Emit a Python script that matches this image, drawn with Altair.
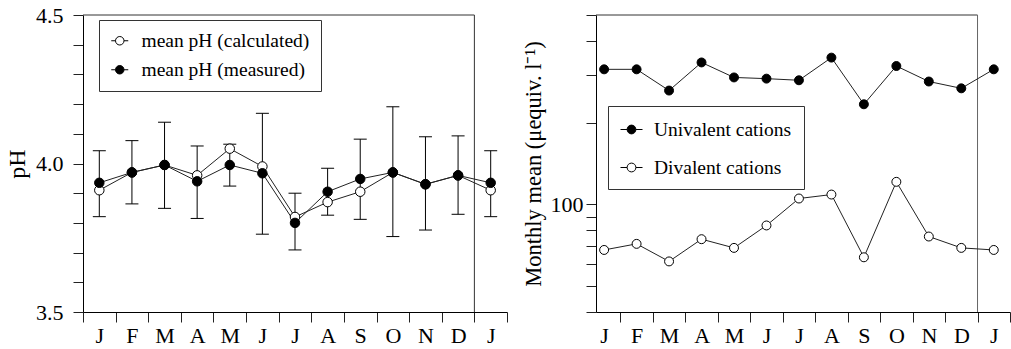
import json
import altair as alt
import pandas as pd

# ---------------- data ----------------
months = ["J", "F", "M", "A", "M", "J", "J", "A", "S", "O", "N", "D", "J"]

ph_calculated = [3.91, 3.97, 3.995, 3.96, 4.05, 3.99, 3.82, 3.87, 3.905, 3.97, 3.93, 3.96, 3.91]
ph_measured = [3.935, 3.97, 3.995, 3.94, 3.995, 3.967, 3.80, 3.905, 3.948, 3.97, 3.93, 3.96, 3.935]
ph_err_high = [4.043, 4.077, 4.139, 4.059, 4.065, 4.169, 3.90, 3.984, 4.082, 4.191, 4.09, 4.093, 4.043]
ph_err_low = [3.821, 3.864, 3.849, 3.815, 3.924, 3.762, 3.709, 3.826, 3.812, 3.754, 3.776, 3.829, 3.821]

univalent = [315, 315, 263, 334, 294, 291, 287, 348, 234, 324, 284, 268, 315]
divalent = [67.8, 71.4, 61.5, 74.3, 69.0, 83.5, 105, 108.6, 63.7, 121, 76, 69.0, 67.8]

ph_ticks = [3.5, 3.6, 3.7, 3.8, 3.9, 4.0, 4.1, 4.2, 4.3, 4.4, 4.5]
ph_tick_labels = ["3.5", "4.0", "4.5"]
cation_ticks = [40, 50, 60, 70, 80, 90, 100, 200, 300, 400, 500]
cation_tick_labels = ["100"]

ph_series = ["mean pH (calculated)", "mean pH (measured)"]
cation_series = ["Univalent cations", "Divalent cations"]

SERIF = "Liberation Serif"
n = len(months)
pos = [i + 0.5 for i in range(n)]

ph_df = pd.DataFrame({
    "pos": pos * 2,
    "value": ph_calculated + ph_measured,
    "series": [ph_series[0]] * n + [ph_series[1]] * n,
})
err_df = pd.DataFrame({"pos": pos, "low": ph_err_low, "high": ph_err_high})
cat_df = pd.DataFrame({
    "pos": pos * 2,
    "value": univalent + divalent,
    "series": [cation_series[0]] * n + [cation_series[1]] * n,
})
one = pd.DataFrame({"k": [0]})

# ---------------- left panel (pH) ----------------
LW, LH = 424, 297
left_x_labels = json.dumps(months + [""])
xl_scale = alt.Scale(domain=[0, 13], nice=False, zero=False)
xl_axis = alt.Axis(values=list(range(14)), labelExpr=f"{left_x_labels}[datum.value]",
                   labelOffset=16.3, title=None, tickSize=10, labelFlush=False,
                   labelOverlap=False, labelPadding=3)
yl_scale = alt.Scale(domain=[3.5, 4.5], nice=False, zero=False)
yl_axis = alt.Axis(values=ph_ticks,
                   labelExpr=f"indexof({json.dumps(ph_tick_labels)}, format(datum.value, '.1f')) >= 0 ? format(datum.value, '.1f') : ''",
                   title="pH", titleFontSize=24, tickSize=10, labelPadding=10, titlePadding=6)


def XL(f):
    return alt.X(f, scale=xl_scale, axis=xl_axis)


def YL(f):
    return alt.Y(f, scale=yl_scale, axis=yl_axis)


left_frame_top = alt.Chart(one).mark_rule(color="#333", strokeWidth=1).encode(
    x=alt.X(datum=0, scale=xl_scale, axis=xl_axis), x2=alt.datum(12),
    y=alt.Y(datum=4.5, scale=yl_scale, axis=yl_axis))
left_frame_right = alt.Chart(one).mark_rule(color="#333", strokeWidth=1).encode(
    x=alt.X(datum=12, scale=xl_scale, axis=xl_axis),
    y=alt.Y(datum=3.5, scale=yl_scale, axis=yl_axis), y2=alt.datum(4.5))

err_rule = alt.Chart(err_df).mark_rule(color="black", strokeWidth=1).encode(
    x=XL("pos:Q"), y=YL("low:Q"), y2="high:Q")
cap_low = alt.Chart(err_df).mark_tick(orient="horizontal", size=13, thickness=1,
                                      color="black", opacity=1).encode(x=XL("pos:Q"), y=YL("low:Q"))
cap_high = alt.Chart(err_df).mark_tick(orient="horizontal", size=13, thickness=1,
                                       color="black", opacity=1).encode(x=XL("pos:Q"), y=YL("high:Q"))
ph_lines = alt.Chart(ph_df).mark_line(color="#222", strokeWidth=1).encode(
    x=XL("pos:Q"), y=YL("value:Q"), detail="series:N")
ph_points = alt.Chart(ph_df).mark_circle(size=90, stroke="black", strokeWidth=1, opacity=1).encode(
    x=XL("pos:Q"), y=YL("value:Q"),
    fill=alt.Fill("series:N", scale=alt.Scale(domain=ph_series, range=["white", "black"]),
                  legend=alt.Legend(title=None, orient="none", legendX=16, legendY=5,
                                    symbolType="M-1,0L-0.5,0M0.5,0L1,0M-0.5,0A0.5,0.5,0,1,1,0.5,0A0.5,0.5,0,1,1,-0.5,0Z",
                                    symbolSize=289, symbolStrokeColor="black", symbolStrokeWidth=1,
                                    labelOffset=12, padding=11, rowPadding=8, labelLimit=400,
                                    strokeColor="#333", fillColor="white")))

left = alt.layer(left_frame_top, left_frame_right, err_rule, cap_low, cap_high,
                 ph_lines, ph_points).properties(width=LW, height=LH)

# ---------------- right panel (cations) ----------------
RW, RH = 414, 297
right_x_labels = json.dumps([""] + months)
xr_scale = alt.Scale(domain=[0.25, 13], nice=False, zero=False)
xr_axis = alt.Axis(values=list(range(1, 14)), labelExpr=f"{right_x_labels}[datum.value]",
                   labelOffset=-16.2, title=None, tickSize=10, labelFlush=False,
                   labelOverlap=False, labelPadding=3)
yr_scale = alt.Scale(type="log", domain=[40, 500], nice=False, zero=False)
yr_axis = alt.Axis(values=cation_ticks,
                   labelExpr=f"indexof({json.dumps(cation_tick_labels)}, format(datum.value, 'd')) >= 0 ? format(datum.value, 'd') : ''",
                   title="Monthly mean (μequiv. l⁻¹)", titleFontSize=22.5, tickSize=10,
                   labelPadding=3, titlePadding=5)


def XR(f):
    return alt.X(f, scale=xr_scale, axis=xr_axis)


def YR(f):
    return alt.Y(f, scale=yr_scale, axis=yr_axis)


right_frame_top = alt.Chart(one).mark_rule(color="#333", strokeWidth=1).encode(
    x=alt.X(datum=0.25, scale=xr_scale, axis=xr_axis), x2=alt.datum(12),
    y=alt.Y(datum=500, scale=yr_scale, axis=yr_axis))
right_frame_right = alt.Chart(one).mark_rule(color="#666", strokeWidth=1).encode(
    x=alt.X(datum=12, scale=xr_scale, axis=xr_axis),
    y=alt.Y(datum=40, scale=yr_scale, axis=yr_axis), y2=alt.datum(500))
cat_lines = alt.Chart(cat_df).mark_line(color="#222", strokeWidth=1).encode(
    x=XR("pos:Q"), y=YR("value:Q"), detail="series:N")
cat_points = alt.Chart(cat_df).mark_circle(size=80, stroke="black", strokeWidth=1, opacity=1).encode(
    x=XR("pos:Q"), y=YR("value:Q"),
    fill=alt.Fill("series:N", scale=alt.Scale(domain=cation_series, range=["black", "white"]),
                  legend=alt.Legend(title=None, orient="none", legendX=12, legendY=91,
                                    symbolType="M-1,0L-0.4,0M0.4,0L1,0M-0.4,0A0.4,0.4,0,1,1,0.4,0A0.4,0.4,0,1,1,-0.4,0Z",
                                    symbolSize=484, symbolStrokeColor="black", symbolStrokeWidth=1,
                                    labelOffset=11, padding=12, rowPadding=17, labelLimit=400,
                                    strokeColor="#333", fillColor="white")))

right = alt.layer(right_frame_top, right_frame_right, cat_lines, cat_points).properties(width=RW, height=RH)

chart = alt.hconcat(left, right, spacing=89, bounds="flush").resolve_scale(
    x="independent", y="independent", fill="independent"
).resolve_legend(fill="independent").properties(
    padding={"left": 5, "top": 4, "right": 0, "bottom": 0}
).configure_view(stroke=None).configure_axis(
    labelFont=SERIF, labelFontSize=22, labelColor="black",
    titleFont=SERIF, titleFontWeight="normal", titleColor="black",
    domainColor="black", tickColor="#222", domainWidth=1, tickWidth=1, grid=False,
).configure_legend(
    labelFont=SERIF, labelFontSize=19.5, labelColor="black",
)

chart.save("out.html", embed_options={"renderer": "svg", "actions": False})
